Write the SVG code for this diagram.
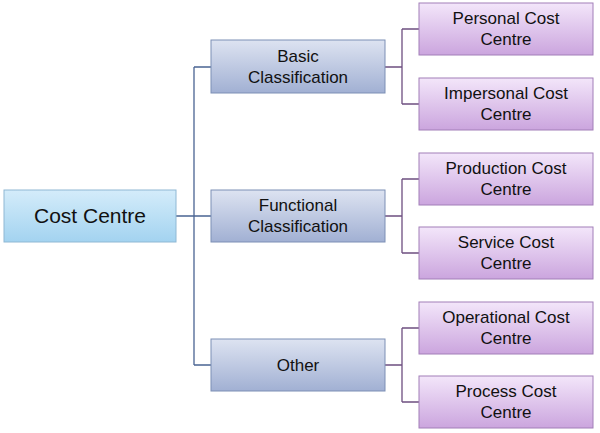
<svg xmlns="http://www.w3.org/2000/svg" width="600" height="433" viewBox="0 0 600 433">
<defs>
<linearGradient id="gb" x1="0" y1="0" x2="0" y2="1"><stop offset="0" stop-color="#d4ecfa"/><stop offset="1" stop-color="#a3d3f0"/></linearGradient>
<linearGradient id="gm" x1="0" y1="0" x2="0" y2="1"><stop offset="0" stop-color="#dde3f1"/><stop offset="1" stop-color="#a1b0d3"/></linearGradient>
<linearGradient id="gp" x1="0" y1="0" x2="0" y2="1"><stop offset="0" stop-color="#f3e6fa"/><stop offset="1" stop-color="#cba5de"/></linearGradient>
</defs>
<style>
.r{fill:url(#gb);stroke:#8fb8d4;stroke-width:1}
.m{fill:url(#gm);stroke:#7d8fb5;stroke-width:1}
.p{fill:url(#gp);stroke:#a27fb8;stroke-width:1}
text{font-family:"Liberation Sans",Arial,sans-serif;font-size:17px;fill:#111;text-anchor:middle}
.c1{stroke:#4a6493;stroke-width:1.3;fill:none}
.c2{stroke:#6e4f80;stroke-width:1.3;fill:none}
</style>
<g id="connectors">
<path class="c1" d="M176 216H194M194 67V365M194 67H211M194 216H211M194 365H211"/>
<path class="c2" d="M385 67H402M402 29V104M402 29H419M402 104H419"/>
<path class="c2" d="M385 216H402M402 179V253M402 179H419M402 253H419"/>
<path class="c2" d="M385 365H402M402 328V402M402 328H419M402 402H419"/>
</g>
<g id="root"><rect class="r" x="4" y="190" width="172" height="52"/><text x="90" y="223" style="font-size:21px">Cost Centre</text></g>
<g id="basic"><rect class="m" x="211" y="40" width="174" height="53"/><text x="298" y="62">Basic</text><text x="298" y="83">Classification</text></g>
<g id="functional"><rect class="m" x="211" y="190" width="174" height="52"/><text x="298" y="211">Functional</text><text x="298" y="232">Classification</text></g>
<g id="other"><rect class="m" x="211" y="339" width="174" height="52"/><text x="298" y="371">Other</text></g>
<g id="personal"><rect class="p" x="419" y="3" width="174" height="52"/><text x="506" y="24">Personal  Cost</text><text x="506" y="45">Centre</text></g>
<g id="impersonal"><rect class="p" x="419" y="78" width="174" height="52"/><text x="506" y="99">Impersonal Cost</text><text x="506" y="120">Centre</text></g>
<g id="production"><rect class="p" x="419" y="153" width="174" height="52"/><text x="506" y="174">Production Cost</text><text x="506" y="195">Centre</text></g>
<g id="service"><rect class="p" x="419" y="227" width="174" height="52"/><text x="506" y="248">Service Cost</text><text x="506" y="269">Centre</text></g>
<g id="operational"><rect class="p" x="419" y="302" width="174" height="52"/><text x="506" y="323">Operational Cost</text><text x="506" y="344">Centre</text></g>
<g id="process"><rect class="p" x="419" y="376" width="174" height="52"/><text x="506" y="397">Process Cost</text><text x="506" y="418">Centre</text></g>
</svg>
